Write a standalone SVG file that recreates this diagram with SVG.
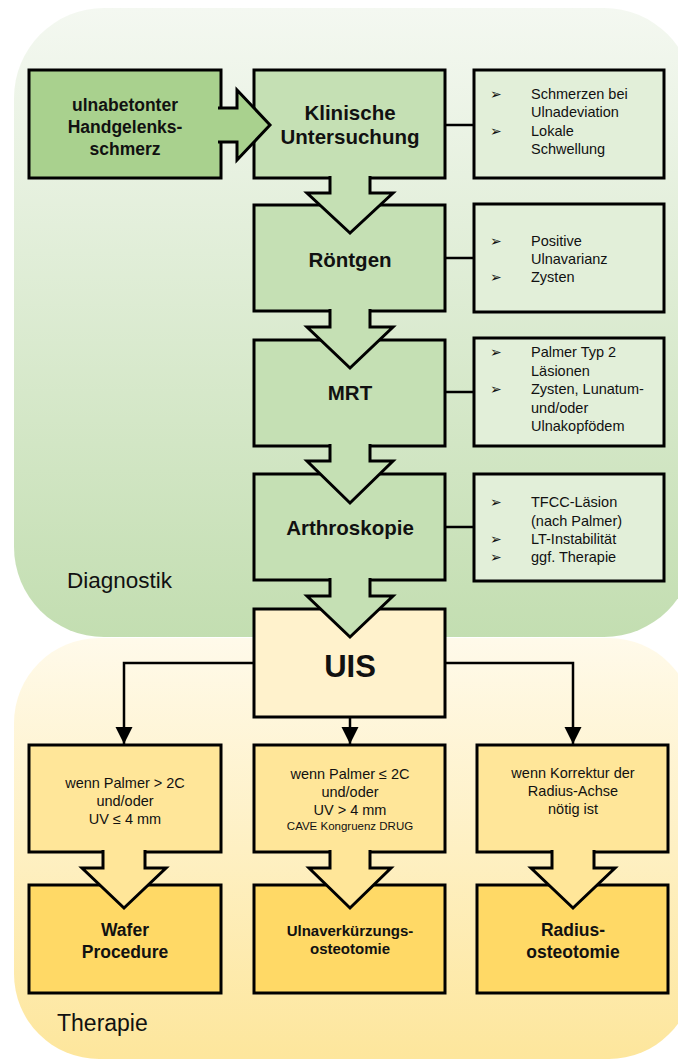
<svg xmlns="http://www.w3.org/2000/svg" width="678" height="1061" viewBox="0 0 678 1061">
<defs>
<linearGradient id="gGreen" x1="0" y1="0" x2="0" y2="1">
<stop offset="0" stop-color="#f4f8f1"/>
<stop offset="1" stop-color="#c3deb1"/>
</linearGradient>
<linearGradient id="gYellow" x1="0" y1="0" x2="0" y2="1">
<stop offset="0" stop-color="#fffaea"/>
<stop offset="1" stop-color="#fde69c"/>
</linearGradient>
<marker id="ah" viewBox="0 0 10 10" refX="10" refY="5" markerWidth="7" markerHeight="7" markerUnits="strokeWidth" orient="auto">
<path d="M0,0 L10,5 L0,10 z" fill="#000"/>
</marker>
<style>
.box{stroke:#000;stroke-width:3}
.lg{fill:#a9d18e}
.g{fill:#c5e0b4}
.info{fill:#e2efd9}
.uis{fill:#fff2cc}
.cond{fill:#ffe699}
.fin{fill:#ffd966}
.t{font-family:"Liberation Sans",Arial,sans-serif;fill:#111}
.b{font-weight:bold;text-anchor:middle}
.n{font-size:20.5px}
.s{font-size:14.5px}
.c{font-size:14.5px;text-anchor:middle}
.bul{font-family:"DejaVu Sans",sans-serif;font-size:14px;fill:#111}
.conn{fill:none;stroke:#000;stroke-width:2.5}
.blk{stroke:#000;stroke-width:3;stroke-linejoin:miter}
</style>
</defs>

<g id="backgrounds">
<rect x="14" y="8" width="680" height="629" rx="90" fill="url(#gGreen)"/>
<rect x="14" y="638" width="680" height="421" rx="85" fill="url(#gYellow)"/>
<text class="t" x="67" y="588" font-size="22.5">Diagnostik</text>
<text class="t" x="57" y="1031" font-size="23">Therapie</text>
</g>

<g id="n-schmerz">
<rect class="box lg" x="29" y="70" width="192" height="108"/>
<text class="t b" font-size="17.5" x="125" y="111">ulnabetonter</text>
<text class="t b" font-size="17.5" x="125" y="133">Handgelenks-</text>
<text class="t b" font-size="17.5" x="125" y="155">schmerz</text>
</g>

<g id="n-klinisch">
<rect class="box g" x="254" y="70" width="191" height="108"/>
<text class="t b n" x="350" y="120">Klinische</text>
<text class="t b n" x="350" y="144">Untersuchung</text>
</g>

<g id="n-info1">
<rect class="box info" x="474" y="70" width="190" height="108"/>
<text class="bul" x="490" y="99">➢</text>
<text class="bul" x="490" y="136">➢</text>
<text class="t s" x="531" y="99">Schmerzen bei</text>
<text class="t s" x="531" y="117">Ulnadeviation</text>
<text class="t s" x="531" y="136">Lokale</text>
<text class="t s" x="531" y="154">Schwellung</text>
</g>

<g id="n-roentgen">
<rect class="box g" x="254" y="205" width="191" height="106"/>
<text class="t b n" x="350" y="267">Röntgen</text>
</g>

<g id="n-info2">
<rect class="box info" x="474" y="204" width="190" height="108"/>
<text class="bul" x="490" y="246">➢</text>
<text class="bul" x="490" y="282">➢</text>
<text class="t s" x="531" y="246">Positive</text>
<text class="t s" x="531" y="264">Ulnavarianz</text>
<text class="t s" x="531" y="282">Zysten</text>
</g>

<g id="n-mrt">
<rect class="box g" x="254" y="340" width="191" height="106"/>
<text class="t b n" x="350" y="400">MRT</text>
</g>

<g id="n-info3">
<rect class="box info" x="474" y="338" width="190" height="108"/>
<text class="bul" x="490" y="357">➢</text>
<text class="bul" x="490" y="394">➢</text>
<text class="t s" x="531" y="357">Palmer Typ 2</text>
<text class="t s" x="531" y="376">Läsionen</text>
<text class="t s" x="531" y="394">Zysten, Lunatum-</text>
<text class="t s" x="531" y="413">und/oder</text>
<text class="t s" x="531" y="431">Ulnakopfödem</text>
</g>

<g id="n-arthro">
<rect class="box g" x="254" y="474" width="191" height="106"/>
<text class="t b n" x="350" y="535">Arthroskopie</text>
</g>

<g id="n-info4">
<rect class="box info" x="474" y="474" width="190" height="107"/>
<text class="bul" x="490" y="507">➢</text>
<text class="bul" x="490" y="544">➢</text>
<text class="bul" x="490" y="562">➢</text>
<text class="t s" x="531" y="507">TFCC-Läsion</text>
<text class="t s" x="531" y="526">(nach Palmer)</text>
<text class="t s" x="531" y="544">LT-Instabilität</text>
<text class="t s" x="531" y="562">ggf. Therapie</text>
</g>

<g id="n-uis">
<rect class="box uis" x="254" y="609" width="191" height="108"/>
<text class="t b" font-size="31" x="350" y="677">UIS</text>
</g>

<g id="n-cond1">
<rect class="box cond" x="29" y="745" width="192" height="107"/>
<text class="t c" x="125" y="788">wenn Palmer &gt; 2C</text>
<text class="t c" x="125" y="806">und/oder</text>
<text class="t c" x="125" y="824">UV ≤ 4 mm</text>
</g>

<g id="n-cond2">
<rect class="box cond" x="254" y="745" width="191" height="107"/>
<text class="t c" x="350" y="779">wenn Palmer ≤ 2C</text>
<text class="t c" x="350" y="797">und/oder</text>
<text class="t c" x="350" y="815">UV &gt; 4 mm</text>
<text class="t" font-size="11.5" text-anchor="middle" x="350" y="830">CAVE Kongruenz DRUG</text>
</g>

<g id="n-cond3">
<rect class="box cond" x="477" y="745" width="191" height="107"/>
<text class="t c" x="573" y="778">wenn Korrektur der</text>
<text class="t c" x="573" y="796">Radius-Achse</text>
<text class="t c" x="573" y="814">nötig ist</text>
</g>

<g id="n-wafer">
<rect class="box fin" x="29" y="885" width="192" height="108"/>
<text class="t b" font-size="17.5" x="125" y="936">Wafer</text>
<text class="t b" font-size="17.5" x="125" y="958">Procedure</text>
</g>

<g id="n-ulna">
<rect class="box fin" x="254" y="885" width="191" height="108"/>
<text class="t b" font-size="15" x="350" y="936">Ulnaverkürzungs-</text>
<text class="t b" font-size="15" x="350" y="954">osteotomie</text>
</g>

<g id="n-radius">
<rect class="box fin" x="477" y="885" width="191" height="108"/>
<text class="t b" font-size="17.5" x="573" y="936">Radius-</text>
<text class="t b" font-size="17.5" x="573" y="958">osteotomie</text>
</g>

<g id="connectors">
<line class="conn" x1="445" y1="125" x2="474" y2="125"/>
<line class="conn" x1="445" y1="258" x2="474" y2="258"/>
<line class="conn" x1="445" y1="392" x2="474" y2="392"/>
<line class="conn" x1="445" y1="527" x2="474" y2="527"/>
<path class="blk lg" d="M218,108 H237 V90 L270,125 L237,160 V142 H218"/>
<path class="blk g" d="M330,176 V193 H307 L350,233 L393,193 H370 V176"/>
<path class="blk g" d="M330,309 V327 H307 L350,368 L393,327 H370 V309"/>
<path class="blk g" d="M330,444 V461 H307 L350,503 L393,461 H370 V444"/>
<path class="blk g" d="M330,578 V596 H307 L350,637 L393,596 H370 V578"/>
<path class="blk cond" d="M103,850 V868 H82 L124,908 L166,868 H145 V850"/>
<path class="blk cond" d="M330,850 V868 H309 L350,908 L391,868 H370 V850"/>
<path class="blk cond" d="M552,850 V868 H531 L573,908 L615,868 H594 V850"/>
<path class="conn" d="M254,663 H124 V744" marker-end="url(#ah)"/>
<path class="conn" d="M350,717 V744" marker-end="url(#ah)"/>
<path class="conn" d="M445,663 H573 V744" marker-end="url(#ah)"/>
</g>
</svg>
